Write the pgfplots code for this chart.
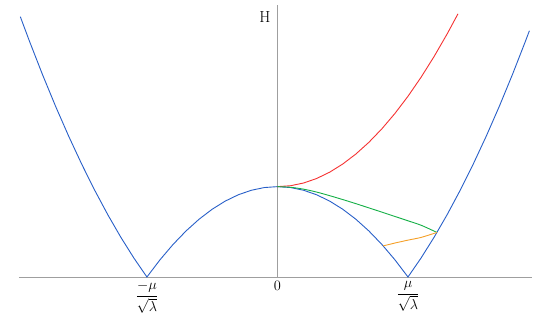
\documentclass[border=0pt]{standalone}
\usepackage{pgfplots}
\pgfplotsset{compat=1.18}
\usepackage{amsmath}

\definecolor{cblue}{RGB}{40,95,200}
\definecolor{cred}{RGB}{245,50,50}
\definecolor{cgreen}{RGB}{20,175,70}
\definecolor{corange}{RGB}{245,160,40}

\begin{document}
\begin{tikzpicture}
    \useasboundingbox (-19pt,-45pt) rectangle (531pt,277pt);
    \begin{axis}[
        at={(0,0)}, anchor=south west,
        scale only axis,
        width=513pt, height=272pt,
        xmin=-1.98, xmax=1.95,
        ymin=0, ymax=3.01,
        axis lines=middle,
        axis line style={draw=gray!75, line width=0.7pt, -},
        hide obscured x ticks=false,
        xtick={-1,0,1},
        xticklabels={$\dfrac{-\mu}{\sqrt{\lambda}}$, $0$, $\dfrac{\mu}{\sqrt{\lambda}}$},
        ytick=\empty,
        major tick length=0pt,
        xticklabel style={font=\fontsize{14}{16}\selectfont, anchor=north, yshift=-1pt},
        clip=true]
    % |phi^2 - 1|
    \addplot[cblue, line width=0.9pt] coordinates {
        (-1.97,2.8809) (-1.9,2.61) (-1.8,2.24) (-1.7,1.89) (-1.6,1.56)
        (-1.5,1.25) (-1.4,0.96) (-1.3,0.69) (-1.2,0.44) (-1.1,0.21)
        (-1.0,0) (-0.9,0.19) (-0.8,0.36) (-0.7,0.51) (-0.6,0.64)
        (-0.5,0.75) (-0.4,0.84) (-0.3,0.91) (-0.2,0.96) (-0.1,0.99)
        (0,1) (0.1,0.99) (0.2,0.96) (0.3,0.91) (0.4,0.84) (0.5,0.75)
        (0.6,0.64) (0.7,0.51) (0.8,0.36) (0.9,0.19) (1.0,0)
        (1.1,0.21) (1.2,0.44) (1.3,0.69) (1.4,0.96) (1.5,1.25)
        (1.6,1.56) (1.7,1.89) (1.8,2.24) (1.9,2.61) (1.93,2.7249)
    };
    \addplot[cred, line width=0.9pt] coordinates {
        (0,1) (0.1,1.01) (0.2,1.04) (0.3,1.09) (0.4,1.16) (0.5,1.25)
        (0.6,1.36) (0.7,1.49) (0.8,1.64) (0.9,1.81) (1.0,2.0)
        (1.1,2.21) (1.2,2.44) (1.3,2.69) (1.383,2.9127)
    };
    \addplot[cgreen, line width=0.9pt, smooth] coordinates {
        (0,1) (0.1,0.993) (0.2,0.972) (0.3,0.94) (0.4,0.90) (0.5,0.857)
        (0.6,0.812) (0.7,0.765) (0.8,0.718) (0.9,0.67) (1.0,0.622)
        (1.1,0.573) (1.2,0.508) (1.222,0.493)
    };
    \addplot[corange, line width=0.9pt, smooth] coordinates {
        (0.81,0.344) (0.9,0.376) (1.0,0.408) (1.1,0.438) (1.222,0.493)
    };
    \node[font=\fontsize{16}{18}\selectfont] at (axis cs:-0.096,2.88) {H};
    \node[font=\fontsize{16}{18}\selectfont] at (axis cs:1.49,-0.145) {$\varphi$};
    \end{axis}
\end{tikzpicture}
\end{document}
